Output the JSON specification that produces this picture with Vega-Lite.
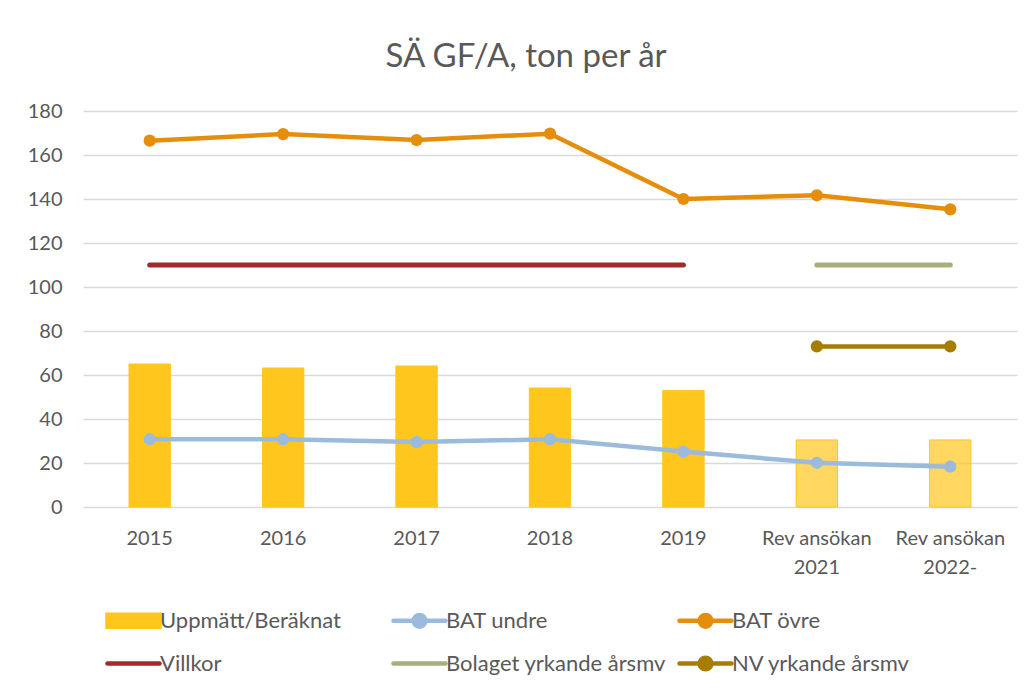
{
  "$schema": "https://vega.github.io/schema/vega-lite/v6.json",
  "width": 934,
  "height": 396,
  "autosize": {"type": "none"},
  "padding": {"left": 83, "top": 111, "right": 19, "bottom": 186},
  "background": "#ffffff",
  "title": {
    "text": "SÄ GF/A, ton per år",
    "font": "Lato",
    "fontSize": 33,
    "fontWeight": "normal",
    "color": "#595959",
    "anchor": "middle",
    "frame": "group",
    "dx": -24,
    "offset": 27
  },
  "datasets": {
    "bars": [
      {"kat": "2015", "serie": "Uppmätt/Beräknat", "v": 65.0},
      {"kat": "2016", "serie": "Uppmätt/Beräknat", "v": 63.2},
      {"kat": "2017", "serie": "Uppmätt/Beräknat", "v": 64.1},
      {"kat": "2018", "serie": "Uppmätt/Beräknat", "v": 54.1},
      {"kat": "2019", "serie": "Uppmätt/Beräknat", "v": 53.0},
      {"kat": "Rev ansökan|2021", "serie": "Uppmätt/Beräknat", "v": 30.5},
      {"kat": "Rev ansökan|2022-", "serie": "Uppmätt/Beräknat", "v": 30.5}
    ],
    "lines": [
      {"kat": "2015", "serie": "BAT undre", "v": 30.8},
      {"kat": "2016", "serie": "BAT undre", "v": 30.8},
      {"kat": "2017", "serie": "BAT undre", "v": 29.5},
      {"kat": "2018", "serie": "BAT undre", "v": 30.8},
      {"kat": "2019", "serie": "BAT undre", "v": 25.2},
      {"kat": "Rev ansökan|2021", "serie": "BAT undre", "v": 20.1},
      {"kat": "Rev ansökan|2022-", "serie": "BAT undre", "v": 18.3},
      {"kat": "2015", "serie": "BAT övre", "v": 166.5},
      {"kat": "2016", "serie": "BAT övre", "v": 169.5},
      {"kat": "2017", "serie": "BAT övre", "v": 166.8},
      {"kat": "2018", "serie": "BAT övre", "v": 169.7},
      {"kat": "2019", "serie": "BAT övre", "v": 140.0},
      {"kat": "Rev ansökan|2021", "serie": "BAT övre", "v": 141.7},
      {"kat": "Rev ansökan|2022-", "serie": "BAT övre", "v": 135.3},
      {"kat": "Rev ansökan|2021", "serie": "NV yrkande årsmv", "v": 73},
      {"kat": "Rev ansökan|2022-", "serie": "NV yrkande årsmv", "v": 73}
    ],
    "flat": [
      {"kat": "2015", "serie": "Villkor", "v": 110},
      {"kat": "2016", "serie": "Villkor", "v": 110},
      {"kat": "2017", "serie": "Villkor", "v": 110},
      {"kat": "2018", "serie": "Villkor", "v": 110},
      {"kat": "2019", "serie": "Villkor", "v": 110},
      {"kat": "Rev ansökan|2021", "serie": "Bolaget yrkande årsmv", "v": 110},
      {"kat": "Rev ansökan|2022-", "serie": "Bolaget yrkande årsmv", "v": 110}
    ]
  },
  "encoding": {
    "x": {
      "field": "kat",
      "type": "nominal",
      "sort": ["2015", "2016", "2017", "2018", "2019", "Rev ansökan|2021", "Rev ansökan|2022-"],
      "scale": {"domain": ["2015", "2016", "2017", "2018", "2019", "Rev ansökan|2021", "Rev ansökan|2022-"], "paddingInner": 0, "paddingOuter": 0},
      "axis": {
        "title": null,
        "labelExpr": "split(datum.label, '|')",
        "labelAngle": 0,
        "labelFont": "Lato",
        "labelFontSize": 20,
        "labelColor": "#595959",
        "labelPadding": 21,
        "labelLineHeight": 29,
        "domain": false,
        "ticks": false,
        "grid": false
      }
    },
    "y": {
      "field": "v",
      "type": "quantitative",
      "scale": {"domain": [0, 180], "nice": false},
      "axis": {
        "title": null,
        "values": [0, 20, 40, 60, 80, 100, 120, 140, 160, 180],
        "labelFont": "Lato",
        "labelFontSize": 20,
        "labelColor": "#595959",
        "labelPadding": 21,
        "domain": false,
        "ticks": false,
        "grid": true,
        "gridColor": "#d9d9d9",
        "gridWidth": 1.5
      }
    },
    "color": {
      "field": "serie",
      "type": "nominal",
      "scale": {
        "domain": ["Uppmätt/Beräknat", "BAT undre", "BAT övre", "Villkor", "Bolaget yrkande årsmv", "NV yrkande årsmv"],
        "range": ["#FFC61E", "#9BBBDD", "#E48E0B", "#A5282B", "#A9AF7C", "#A67D00"]
      },
      "legend": {
        "title": null,
        "orient": "none",
        "direction": "horizontal",
        "legendX": 22,
        "legendY": 494,
        "columns": 3,
        "gridAlign": "all",
        "columnPadding": 4,
        "rowPadding": 12,
        "padding": 0,
        "symbolSize": 676,
        "labelOffset": 24,
        "labelFont": "Lato",
        "labelFontSize": 22,
        "labelColor": "#595959",
        "labelLimit": 400,
        "encode": {
          "symbols": {
            "update": {
              "shape": [
                {"test": "datum.value === 'Uppmätt/Beräknat'", "value": "M-1,-0.46H3V0.46H-1Z"},
                {"test": "datum.value === 'Villkor' || datum.value === 'Bolaget yrkande årsmv'", "value": "M-1,0H3"},
                {"value": "M-1,0H3M1.45,0A0.45,0.45,0,1,1,0.55,0A0.45,0.45,0,1,1,1.45,0"}
              ],
              "fill": {"scale": "color", "field": "value"},
              "stroke": [
                {"test": "datum.value === 'Uppmätt/Beräknat'", "value": "transparent"},
                {"scale": "color", "field": "value"}
              ],
              "strokeWidth": {"value": 4.5},
              "strokeCap": {"value": "round"},
              "size": {"value": 676},
              "opacity": {"value": 1},
              "fillOpacity": {"value": 1},
              "strokeOpacity": {"value": 1}
            }
          }
        }
      }
    }
  },
  "layer": [
    {
      "data": {"name": "bars"},
      "mark": {"type": "bar", "width": {"band": 0.31}, "stroke": "#FFC61E", "strokeWidth": 1},
      "encoding": {
        "fillOpacity": {
          "condition": {"test": "indexof(datum.kat, 'Rev') >= 0", "value": 0.7},
          "value": 1
        }
      }
    },
    {
      "data": {"name": "flat"},
      "mark": {"type": "line", "strokeWidth": 5, "strokeCap": "round"},
      "encoding": {}
    },
    {
      "data": {"name": "lines"},
      "mark": {"type": "line", "strokeWidth": 4.5, "strokeCap": "round", "point": {"filled": true, "size": 150, "opacity": 1}},
      "encoding": {}
    }
  ],
  "config": {
    "view": {"stroke": null},
    "font": "Lato"
  }
}
